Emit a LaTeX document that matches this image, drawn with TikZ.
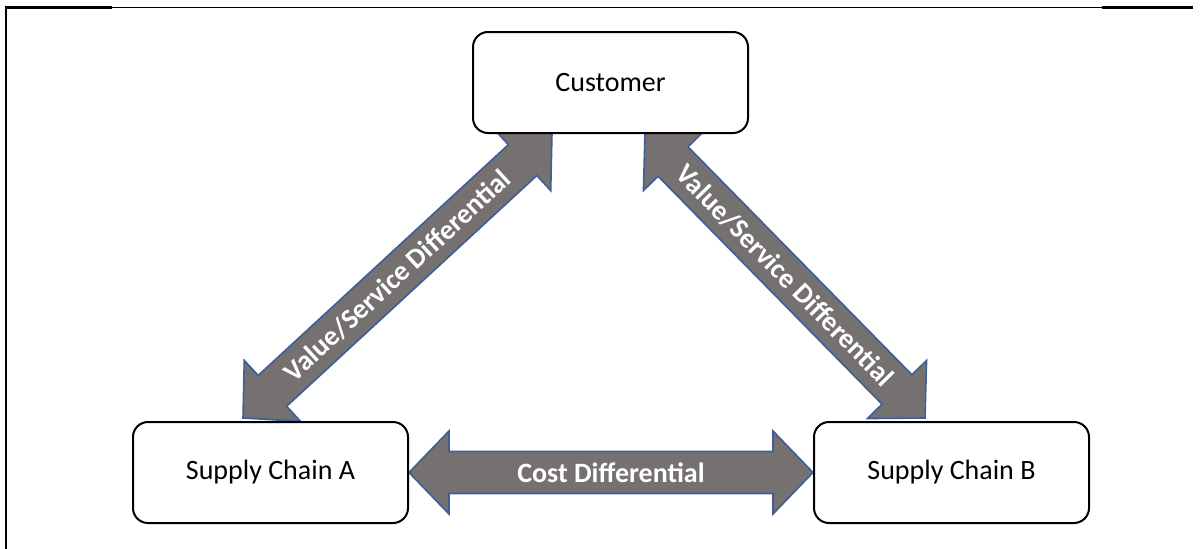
\documentclass[tikz,border=0pt]{standalone}
\usepackage{fontspec}
\setmainfont{Carlito}
\usetikzlibrary{calc,backgrounds}
\definecolor{arrowgray}{HTML}{767171}
\definecolor{arrowedge}{HTML}{3D5F96}
\tikzset{
  box/.style={draw=black, line width=2pt, fill=white, rounded corners=15pt,
    minimum width=275pt, minimum height=101pt, inner sep=0pt,
    font=\fontsize{28}{32}\selectfont},
  blockarrow/.style={fill=arrowgray, draw=arrowedge, line width=1.6pt, line join=miter},
  arrowtext/.style={text=white, font=\bfseries\fontsize{28}{32}\selectfont, inner sep=0pt},
  framethick/.style={line width=2.6pt},
  framethin/.style={line width=1.3pt}
}
\newcommand{\blockdbl}[2]{%
  \coordinate (#1h) at ($(#1)!40pt!(#2)$);
  \coordinate (#2h) at ($(#2)!40pt!(#1)$);
  \draw[blockarrow] (#1) -- ($(#1h)!41.5pt!-90:(#2)$) -- ($(#1h)!21pt!-90:(#2)$)
    -- ($(#2h)!21pt!90:(#1)$) -- ($(#2h)!41.5pt!90:(#1)$) -- (#2)
    -- ($(#2h)!41.5pt!-90:(#1)$) -- ($(#2h)!21pt!-90:(#1)$)
    -- ($(#1h)!21pt!90:(#2)$) -- ($(#1h)!41.5pt!90:(#2)$) -- cycle;
}
\begin{document}
\begin{tikzpicture}[x=1pt, y=-1pt]
\useasboundingbox (0,0) rectangle (1203,549);
% frame
\draw[framethick, line cap=butt] (6,549) -- (6,7.5) -- (112,7.5);
\draw[framethin] (112,7.5) -- (1102,7.5);
\draw[framethick] (1102,7.5) -- (1193,7.5);
% boxes
\node[box] (C) at (610.5,82.5) {Customer};
\node[box] (A) at (270.5,472.5) {Supply Chain A};
\node[box] (B) at (951.5,472.5) {Supply Chain B};
% arrow end points
\coordinate (la) at (243,418);
\coordinate (lb) at (552,133);
\coordinate (ra) at (645,133);
\coordinate (rb) at (925,418);
\coordinate (ca) at (A.east);
\coordinate (cb) at (B.west);
\begin{pgfonlayer}{background}
\blockdbl{la}{lb}
\blockdbl{ra}{rb}
\blockdbl{ca}{cb}
\end{pgfonlayer}
\path (la) -- (lb) node[midway, sloped, arrowtext] {Value/Service Differential};
\path (ra) -- (rb) node[midway, sloped, arrowtext] {Value/Service Differential};
\path (ca) -- (cb) node[midway, arrowtext] {Cost Differential};
\end{tikzpicture}
\end{document}
